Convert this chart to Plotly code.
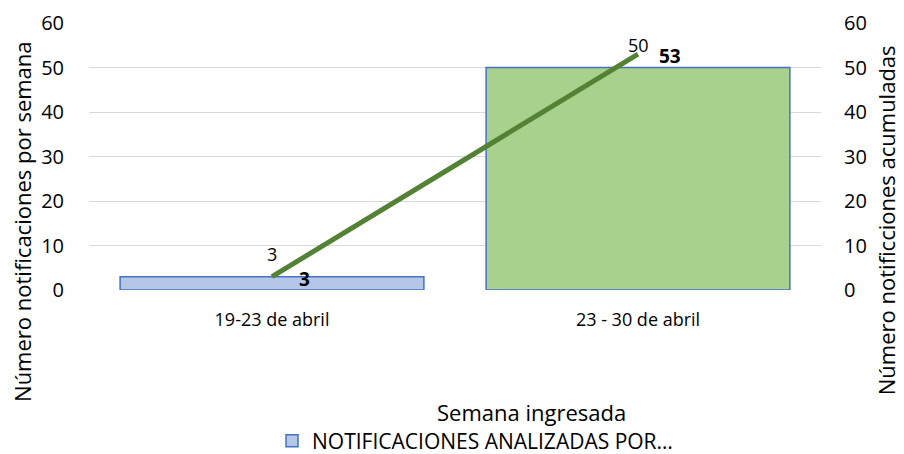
import plotly.graph_objects as go

categories = ["19-23 de abril", "23 - 30 de abril"]
weekly = [3, 50]
cumulative = [3, 53]
bar_colors = ["#B4C7E7", "#A9D18E"]
y_ticks = [0, 10, 20, 30, 40, 50, 60]

FONT = "'Open Sans', sans-serif"

fig = go.Figure()
fig.add_trace(go.Bar(
    x=categories, y=weekly, name="NOTIFICACIONES ANALIZADAS POR…",
    marker=dict(color=bar_colors, line=dict(color="#4472C4", width=1.5)),
    width=0.83, showlegend=True,
))
fig.add_trace(go.Scatter(
    x=categories, y=cumulative, yaxis="y2", mode="lines",
    line=dict(color="#548235", width=5), showlegend=False,
))

ann = []
for c, v in zip(categories, weekly):
    ann.append(dict(x=c, y=v, xref="x", yref="y", text=str(v), showarrow=False,
                    yshift=23, font=dict(size=18, color="#000000", family=FONT)))
for c, v in zip(categories, cumulative):
    ann.append(dict(x=c, y=v, xref="x", yref="y2", text="<b>%d</b>" % v, showarrow=False,
                    xshift=32, yshift=-2, font=dict(size=19, color="#000000", family=FONT)))
ann.append(dict(x=-0.0915, y=0.255, xref="paper", yref="paper", text="Número notificaciones por semana",
                textangle=-90, showarrow=False, xanchor="center", yanchor="middle",
                font=dict(size=22, color="#000000", family=FONT)))
ann.append(dict(x=1.089, y=0.262, xref="paper", yref="paper", text="Número notificciones acumuladas",
                textangle=-90, showarrow=False, xanchor="center", yanchor="middle",
                font=dict(size=22, color="#000000", family=FONT)))
ann.append(dict(x=0.604, y=-0.457, xref="paper", yref="paper", text="Semana ingresada",
                showarrow=False, xanchor="center", yanchor="middle",
                font=dict(size=22, color="#000000", family=FONT)))

# page body adds an 8px offset, so the figure is 8px smaller and margins shifted
fig.update_layout(
    width=896, height=446,
    margin=dict(l=81, r=83, t=15, b=164),
    paper_bgcolor="white", plot_bgcolor="white",
    font=dict(family=FONT, color="#000000"),
    bargap=0.17,
    annotations=ann,
    xaxis=dict(type="category", showgrid=False, showline=False, zeroline=False, automargin=False,
               ticks="outside", ticklen=13, tickcolor="rgba(0,0,0,0)",
               tickfont=dict(size=18, color="#000000", family=FONT)),
    yaxis=dict(range=[0, 60], tickvals=y_ticks, showgrid=True, gridcolor="#D9D9D9", gridwidth=1.3,
               zeroline=False, showline=False, automargin=False,
               ticks="outside", ticklen=20, tickcolor="rgba(0,0,0,0)",
               tickfont=dict(size=20, color="#000000", family=FONT)),
    yaxis2=dict(range=[0, 60], tickvals=y_ticks, overlaying="y", side="right", showgrid=False,
                zeroline=False, showline=False, automargin=False,
                ticks="outside", ticklen=18, tickcolor="rgba(0,0,0,0)",
                tickfont=dict(size=20, color="#000000", family=FONT)),
    legend=dict(orientation="h", x=0.25, y=0.029, xref="paper", yref="container",
                xanchor="left", yanchor="middle",
                font=dict(size=21, color="#000000", family=FONT), bgcolor="rgba(0,0,0,0)"),
)

fig.write_html("out.html")
